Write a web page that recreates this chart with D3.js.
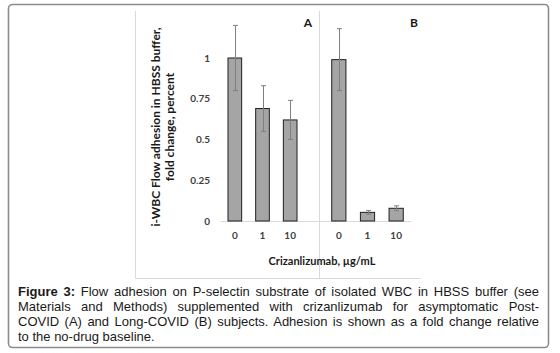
<!DOCTYPE html>
<html>
<head>
<meta charset="utf-8">
<script src="https://cdn.jsdelivr.net/npm/d3@7"></script>
<style>
  html, body { margin: 0; padding: 0; background: #fff; }
  #wrap { position: relative; width: 560px; height: 353px; }
  #chart { position: absolute; left: 0; top: 0; }
  #caption {
    position: absolute; left: 18px; top: 284px; width: 521px;
    font-family: "Liberation Sans", Arial, sans-serif; font-size: 13px;
    line-height: 15px; color: #1a1a1a;
  }
  #caption div { text-align: justify; text-align-last: justify; white-space: nowrap; }
  #caption div.last { text-align-last: left; }
  #caption b { font-weight: bold; }
</style>
</head>
<body>
<div id="wrap">
  <svg id="chart" width="560" height="353"></svg>
  <div id="caption"></div>
</div>
<script>
'use strict';

/* ── Data ─────────────────────────────────────────── */
const doses      = ['0', '1', '10'];
const valuesA    = [1.00, 0.69, 0.62];
const errorsA    = [0.20, 0.14, 0.12];
const valuesB    = [0.99, 0.053, 0.078];
const errorsB    = [0.19, 0.011, 0.015];
const yTicks     = [0, 0.25, 0.5, 0.75, 1];
const panelNames = ['A', 'B'];
const yTitle     = ['i-WBC Flow adhesion in HBSS buffer,', 'fold change, percent'];
const xTitle     = 'Crizanlizumab, \u00b5g/mL';
const captionLines = [
  'Flow adhesion on P-selectin substrate of isolated WBC in HBSS buffer (see',
  'Materials and Methods) supplemented with crizanlizumab for asymptomatic Post-',
  'COVID (A) and Long-COVID (B) subjects. Adhesion is shown as a fold change relative',
  'to the no-drug baseline.'
];

/* ── Setup ────────────────────────────────────────── */
const svg  = d3.select('#chart');
const FONT = 'Lato, Carlito, Calibri, sans-serif';

/* outer figure frame */
svg.append('rect')
  .attr('x', 8.5).attr('y', 4.5).attr('width', 540).attr('height', 343)
  .attr('rx', 4)
  .attr('fill', 'none').attr('stroke', '#8c8c8c').attr('stroke-width', 1.6);

/* chart picture border (left + bottom) */
svg.append('path')
  .attr('d', 'M135.5,11 V278.5 H421')
  .attr('fill', 'none').attr('stroke', '#d9d9d9').attr('stroke-width', 1);

/* ── Scales ───────────────────────────────────────── */
const y = d3.scaleLinear().domain([0, 1.25]).range([221, 17.25]);

const panels = [
  { name: panelNames[0], values: valuesA, errors: errorsA,
    x: d3.scaleBand().domain(doses).range([221, 304]).paddingInner(0.47).paddingOuter(0.235),
    labelX: 308 },
  { name: panelNames[1], values: valuesB, errors: errorsB,
    x: d3.scaleBand().domain(doses).range([324.5, 410.5]).paddingInner(0.47).paddingOuter(0.235),
    labelX: 414 }
];

/* ── Y axis ───────────────────────────────────────── */
const yAxis = d3.axisLeft(y)
  .tickValues(yTicks)
  .tickFormat(d => String(d))
  .tickSize(0).tickPadding(11);

const yG = svg.append('g').attr('transform', 'translate(221,0)').call(yAxis);
yG.select('.domain').remove();
yG.selectAll('.tick text')
  .attr('font-family', FONT).attr('font-weight', 'bold')
  .attr('font-size', 10).attr('fill', '#404040');

/* baseline */
svg.append('line')
  .attr('x1', 221).attr('x2', 411)
  .attr('y1', y(0) + 0.5).attr('y2', y(0) + 0.5)
  .attr('stroke', '#d9d9d9').attr('stroke-width', 1);

/* panel separator */
svg.append('line')
  .attr('x1', 319.5).attr('x2', 319.5).attr('y1', 11).attr('y2', 278)
  .attr('stroke', '#d9d9d9').attr('stroke-width', 1);

/* ── Panels ───────────────────────────────────────── */
panels.forEach(p => {
  const xAxis = d3.axisBottom(p.x).tickSize(0).tickPadding(11);
  const xG = svg.append('g').attr('transform', `translate(0,${y(0)})`).call(xAxis);
  xG.select('.domain').remove();
  xG.selectAll('.tick text')
    .attr('font-family', FONT).attr('font-weight', 'bold')
    .attr('font-size', 10).attr('fill', '#404040');

  const data = doses.map((d, i) => ({ dose: d, v: p.values[i], e: p.errors[i] }));

  /* bars */
  svg.append('g').selectAll('rect').data(data).join('rect')
    .attr('x', d => p.x(d.dose) + 0.5)
    .attr('y', d => y(d.v))
    .attr('width', p.x.bandwidth() - 1)
    .attr('height', d => y(0) - y(d.v))
    .attr('fill', '#a5a5a5')
    .attr('stroke', '#1f1f1f').attr('stroke-width', 1);

  /* error bars */
  const eg = svg.append('g').attr('stroke', '#7f7f7f').attr('stroke-width', 1);
  data.forEach(d => {
    const cx = Math.round(p.x(d.dose) + p.x.bandwidth() / 2) + 0.5;
    eg.append('line').attr('x1', cx).attr('x2', cx).attr('y1', y(d.v + d.e)).attr('y2', y(d.v - d.e));
    eg.append('line').attr('x1', cx - 2.5).attr('x2', cx + 2.5).attr('y1', y(d.v + d.e)).attr('y2', y(d.v + d.e));
    eg.append('line').attr('x1', cx - 2.5).attr('x2', cx + 2.5).attr('y1', y(d.v - d.e)).attr('y2', y(d.v - d.e));
  });

  /* panel letter */
  svg.append('text')
    .attr('x', p.labelX).attr('y', 27)
    .attr('text-anchor', 'middle')
    .attr('font-family', FONT).attr('font-weight', 'bold').attr('font-size', 12)
    .attr('fill', '#1a1a1a')
    .text(p.name);
});

/* ── Axis titles ──────────────────────────────────── */
const yt = svg.append('text')
  .attr('transform', 'translate(160,127) rotate(-90)')
  .attr('text-anchor', 'middle')
  .attr('font-family', FONT).attr('font-weight', 'bold').attr('font-size', 12)
  .attr('fill', '#1a1a1a');
yTitle.forEach((t, i) => {
  yt.append('tspan').attr('x', 0).attr('dy', i === 0 ? 0 : 14).text(t);
});

svg.append('text')
  .attr('x', 322).attr('y', 265)
  .attr('text-anchor', 'middle')
  .attr('font-family', FONT).attr('font-weight', 'bold').attr('font-size', 11)
  .attr('fill', '#1a1a1a')
  .text(xTitle);

/* ── Caption ──────────────────────────────────────── */
const cap = d3.select('#caption');
captionLines.forEach((line, i) => {
  const div = cap.append('div').classed('last', i === captionLines.length - 1);
  if (i === 0) div.append('b').text('Figure 3:');
  div.append('span').text((i === 0 ? ' ' : '') + line);
});
</script>
</body>
</html>
